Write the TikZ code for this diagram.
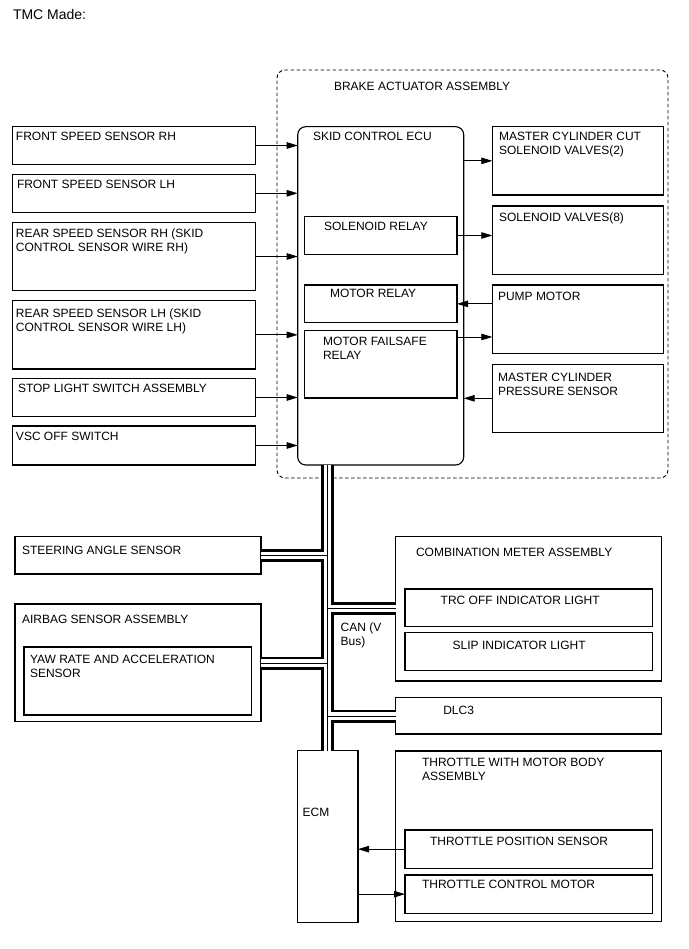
\documentclass[tikz,border=0pt]{standalone}
\usepackage{fontspec}
\setmainfont{Liberation Sans}
\usetikzlibrary{arrows.meta}
\newcommand\bx[6][box]{%
  \pgfmathsetmacro\bw{#5-#3}\pgfmathsetmacro\bh{#6-#4}%
  \node[#1, minimum width=\bw pt, minimum height=\bh pt, anchor=north west] (#2) at (#3,#4) {};}
\newcommand\tx[4]{\node[lbl] (#1) at (#2,#3) {#4};}
\begin{document}
\begin{tikzpicture}[x=1pt,y=-1pt,
  box/.style={draw=black, line width=1.1pt, inner sep=0pt, outer sep=0pt, fill=none},
  rbox/.style={box, rounded corners=8pt},
  dbox/.style={draw=black, line width=0.9pt, dash pattern=on 3.5pt off 2.5pt, rounded corners=8pt, inner sep=0pt, outer sep=0pt},
  lbl/.style={anchor=base west, inner sep=0pt, outer sep=0pt, font=\fontsize{12}{14}\selectfont},
  arr/.style={line width=0.8pt, -{Triangle[length=11pt,width=6.5pt]}}]
\useasboundingbox[fill=white] (0,0) rectangle (688,949);

\node[lbl, font=\fontsize{14}{16}\selectfont] (title) at (13,20) {TMC Made:};

% brake actuator
\bx[dbox]{ba}{277}{70}{668}{478}
\tx{tba}{334}{91}{BRAKE ACTUATOR ASSEMBLY}
\bx[rbox]{ecu}{297.7}{126.7}{463.7}{465}
\tx{tecu}{313}{141}{SKID CONTROL ECU}
\bx{solr}{304.3}{216.7}{457}{254.3}
\tx{tsolr}{324}{231}{SOLENOID RELAY}
\bx{motr}{304.3}{285}{457}{322.7}
\tx{tmotr}{330}{297}{MOTOR RELAY}
\bx{fsr}{304.3}{330.7}{457}{398}
\tx{tfsra}{323}{345.5}{MOTOR FAILSAFE}
\tx{tfsrb}{323}{359.5}{RELAY}

\bx{mccv}{492.3}{126.7}{663.3}{195}
\tx{tmccva}{499}{141}{MASTER CYLINDER CUT}
\tx{tmccvb}{499}{155}{SOLENOID VALVES(2)}
\bx{sv}{492.3}{206}{663.3}{274.3}
\tx{tsv}{499}{222}{SOLENOID VALVES(8)}
\bx{pm}{492.3}{285}{663.3}{353.3}
\tx{tpm}{498}{300}{PUMP MOTOR}
\bx{mcps}{492.3}{364.3}{663.3}{432.3}
\tx{tmcpsa}{498}{381}{MASTER CYLINDER}
\tx{tmcpsb}{498}{395}{PRESSURE SENSOR}

% left sensors
\bx{frsR}{12.3}{126.7}{255.7}{164.3}
\tx{tfrsR}{16}{141}{FRONT SPEED SENSOR RH}
\bx{frsL}{12.3}{174.3}{255.7}{212.3}
\tx{tfrsL}{17}{188.5}{FRONT SPEED SENSOR LH}
\bx{rrsR}{12.3}{222.3}{255.7}{290.7}
\tx{trrsRa}{16}{237.5}{REAR SPEED SENSOR RH (SKID}
\tx{trrsRb}{16}{251.7}{CONTROL SENSOR WIRE RH)}
\bx{rrsL}{12.3}{300.7}{255.7}{369}
\tx{trrsLa}{16}{317.7}{REAR SPEED SENSOR LH (SKID}
\tx{trrsLb}{16}{331.7}{CONTROL SENSOR WIRE LH)}
\bx{stop}{12.3}{378.3}{255.7}{416.7}
\tx{tstop}{18}{392.3}{STOP LIGHT SWITCH ASSEMBLY}
\bx{vsc}{12.3}{426}{255.7}{465}
\tx{tvsc}{16}{440.7}{VSC OFF SWITCH}

% lower part
\bx{steer}{15}{536.7}{261}{574}
\tx{tsteer}{22}{554.5}{STEERING ANGLE SENSOR}
\bx{airbag}{15}{604}{261}{721.7}
\tx{tairbag}{22}{623.5}{AIRBAG SENSOR ASSEMBLY}
\bx{yaw}{24}{647}{251.7}{715}
\tx{tyawa}{30}{663.5}{YAW RATE AND ACCELERATION}
\tx{tyawb}{30}{677.5}{SENSOR}
\bx{comb}{395.7}{536.7}{661.7}{681}
\tx{tcomb}{416}{556}{COMBINATION METER ASSEMBLY}
\bx{trc}{405}{589}{652.3}{626.7}
\tx{ttrc}{440.7}{604}{TRC OFF INDICATOR LIGHT}
\bx{slip}{405}{632.7}{652.3}{670.7}
\tx{tslip}{452.7}{649}{SLIP INDICATOR LIGHT}
\tx{tcana}{340.7}{631}{CAN (V}
\tx{tcanb}{340.7}{645}{Bus)}
\bx{dlc}{395.7}{697.3}{661.7}{734}
\tx{tdlc}{443.3}{714.3}{DLC3}
\bx{ecm}{297.7}{750.7}{358}{922.3}
\tx{tecm}{302.7}{816}{ECM}
\bx{tb}{395.7}{751}{661.7}{921.5}
\tx{ttba}{422}{766.5}{THROTTLE WITH MOTOR BODY}
\tx{ttbb}{422}{780.5}{ASSEMBLY}
\bx{tps}{405}{830}{652.3}{868.3}
\tx{ttps}{430}{845.5}{THROTTLE POSITION SENSOR}
\bx{tcm}{405}{875}{652.3}{913.3}
\tx{ttcm}{422}{888.5}{THROTTLE CONTROL MOTOR}

% arrows into ECU
\foreach \n in {frsR,frsL,rrsR,rrsL,stop,vsc}
  \draw[arr] (\n.east) -- (ecu.west |- \n.east);
\draw[arr] (ecu.east |- mccv.west) -- (mccv.west);
\draw[arr] (solr.east) -- (sv.west |- solr.east);
\draw[arr] (pm.west |- motr.east) -- (motr.east);
\coordinate (fso) at (457,337);
\draw[arr] (fso) -- (pm.west |- fso);
\draw[arr] (mcps.west) -- (ecu.east |- mcps.west);
\draw[arr] (tps.west) -- (ecm.east |- tps.west);
\draw[arr] (ecm.east |- tcm.west) -- (tcm.west);

% CAN bus
\coordinate (bt) at (327.5,465);
\coordinate (bb) at (327.5,750.7);
\coordinate (j1) at (327.5,555.5);
\coordinate (j2) at (327.5,608.5);
\coordinate (j3) at (327.5,663);
\coordinate (j4) at (327.5,716);
\foreach \w/\c in {13pt/black,7.6pt/white,1pt/black}
  \draw[line width=\w, draw=\c] (bt) -- (bb)
    (j1) -- (steer.east |- j1)
    (j3) -- (airbag.east |- j3)
    (j2) -- (comb.west |- j2)
    (j4) -- (dlc.west |- j4);
\end{tikzpicture}
\end{document}
